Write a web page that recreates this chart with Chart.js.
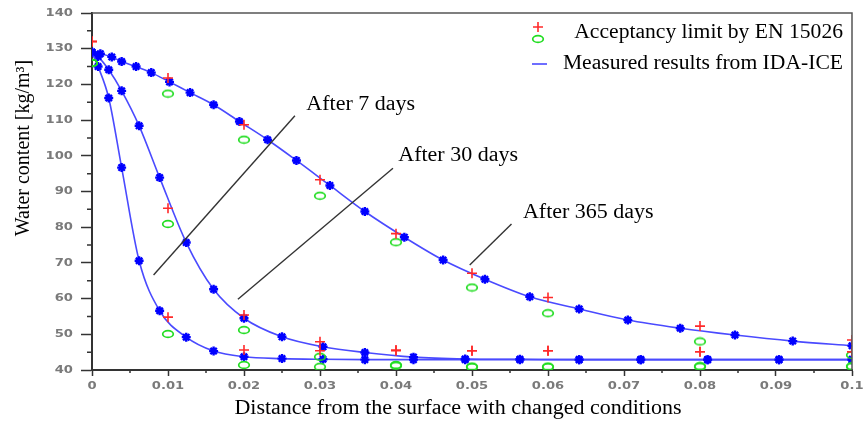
<!DOCTYPE html>
<html>
<head>
<meta charset="utf-8">
<script src="https://cdn.jsdelivr.net/npm/chart.js@4.4.1/dist/chart.umd.min.js"></script>
<style>
  html, body { margin: 0; padding: 0; background: #fff; }
  #wrap { width: 864px; height: 425px; }
</style>
</head>
<body>
<div id="wrap"><canvas id="moistChart" width="864" height="425"></canvas></div>
<script>
// simulation grid (7 and 30 days) and results
const gridX = [0, 0.0008, 0.0022, 0.0039, 0.0062, 0.0089, 0.0124, 0.016, 0.02, 0.025, 0.0304, 0.0359, 0.0423, 0.0491, 0.0563, 0.0641, 0.0722, 0.081, 0.0904, 0.1];
const days7 = [129, 125, 116.2, 96.7, 70.6, 56.6, 49.2, 45.3, 43.7, 43.2, 43.0, 42.9, 42.9, 42.9, 42.9, 42.9, 42.9, 42.9, 42.9, 42.9];
const days30 = [129, 127.8, 124.1, 118.2, 108.4, 93.9, 75.7, 62.6, 54.5, 49.3, 46.5, 44.9, 43.6, 43.1, 43.0, 42.9, 42.9, 42.9, 42.9, 42.9];

// 365 days has its own grid
const grid365 = [0, 0.0011, 0.0026, 0.0039, 0.0058, 0.0078, 0.0102, 0.0129, 0.016, 0.0194, 0.0231, 0.0269, 0.0313, 0.0359, 0.0411, 0.0462, 0.0517, 0.0576, 0.0641, 0.0705, 0.0774, 0.0846, 0.0922, 0.1];
const days365 = [129, 128.6, 127.7, 126.4, 125, 123.3, 120.7, 117.7, 114.3, 109.6, 104.5, 98.7, 91.7, 84.4, 77.2, 70.8, 65.4, 60.5, 57.1, 54.0, 51.7, 49.8, 48.1, 46.8];

// acceptancy limits EN 15026 (upper = red +, lower = green o)
const limitX = [0, 0.01, 0.02, 0.03, 0.04, 0.05, 0.06, 0.08, 0.1];
const upper7 = [132, 54.8, 45.6, 45.4, 45.4, 45.4, 45.4, 45.1, 45.1];
const lower7 = [126, 50.1, 41.4, 40.9, 41.2, 40.9, 40.9, 41.0, 41.0];
const upper30 = [132, 85.3, 55.4, 47.9, 45.6, 45.4, 45.4, 45.1, 45.1];
const lower30 = [126, 80.9, 51.2, 43.7, 41.4, 40.9, 40.9, 41.0, 41.0];
const upper365 = [132, 121.8, 108.7, 93.3, 78.2, 67.1, 60.3, 52.3, 48.4];
const lower365 = [126, 117.4, 104.5, 88.8, 75.8, 63.1, 55.9, 48.0, 44.2];

// axis ticks
const xTickValues = [0, 0.01, 0.02, 0.03, 0.04, 0.05, 0.06, 0.07, 0.08, 0.09, 0.1];
const xTickLabels = ['0', '0.01', '0.02', '0.03', '0.04', '0.05', '0.06', '0.07', '0.08', '0.09', '0.1'];
const yTickValues = [40, 50, 60, 70, 80, 90, 100, 110, 120, 130, 140];
const yTickLabels = ['40', '50', '60', '70', '80', '90', '100', '110', '120', '130', '140'];

const legendLabels = ['Acceptancy limit by EN 15026', 'Measured results from IDA-ICE'];
const curveNotes = ['After 7 days', 'After 30 days', 'After 365 days'];

const serif = '"Liberation Serif", "DejaVu Serif", serif';
const blueLine = '#4a4aff';
const blueMark = '#0000ff';
const red = '#ff2a2a';
const green = '#22dd22';

// green open ellipse marker
function ellipseMarker() {
    const c = document.createElement('canvas');
    c.width = 14; c.height = 10;
    const g = c.getContext('2d');
    g.strokeStyle = green;
    g.lineWidth = 1.7;
    g.beginPath();
    g.ellipse(7, 5, 5.3, 3.4, 0, 0, Math.PI * 2);
    g.stroke();
    return c;
}
const greenO = ellipseMarker();

function pts(xs, ys) {
    return xs.map((x, i) => ({ x: x, y: ys[i] }));
}

function curve(xs, ys) {
    return {
        data: pts(xs, ys),
        showLine: true,
        borderColor: blueLine,
        borderWidth: 1.6,
        cubicInterpolationMode: 'monotone',
        pointStyle: 'star',
        pointRadius: 4.5,
        pointBorderWidth: 2.4,
        pointBorderColor: blueMark,
        pointBackgroundColor: blueMark,
        clip: 0,
        order: 2
    };
}

function upper(ys) {
    return {
        data: pts(limitX, ys),
        showLine: false,
        pointStyle: 'cross',
        pointRadius: 5,
        pointBorderWidth: 1.6,
        pointBorderColor: red,
        clip: 0,
        order: 1
    };
}

function lower(ys) {
    return {
        data: pts(limitX, ys),
        showLine: false,
        pointStyle: greenO,
        clip: 0,
        order: 1
    };
}

// annotation lines + labels, in data units
const notes = [
    { text: curveNotes[0], x1: 0.0081, y1: 66.6, x2: 0.0267, y2: 111.2, tx: 0.0282, ty: 114.3 },
    { text: curveNotes[1], x1: 0.0192, y1: 59.8, x2: 0.0396, y2: 96.5, tx: 0.0403, ty: 100.0 },
    { text: curveNotes[2], x1: 0.0497, y1: 69.4, x2: 0.0552, y2: 80.9, tx: 0.0567, ty: 84.0 }
];

// the source picture is stretched sideways a bit
function wideText(ctx, text, x, y, sx, align) {
    ctx.save();
    ctx.translate(x, y);
    ctx.scale(sx, 1);
    ctx.textAlign = align;
    ctx.fillText(text, 0, 0);
    ctx.restore();
}

const decor = {
    id: 'decor',
    afterDraw(chart) {
        const ctx = chart.ctx;
        const a = chart.chartArea;
        const xs = chart.scales.x, ys = chart.scales.y;
        ctx.save();

        // frame top/right
        ctx.strokeStyle = '#555';
        ctx.lineWidth = 1.5;
        ctx.beginPath();
        ctx.moveTo(a.left, a.top);
        ctx.lineTo(a.right, a.top);
        ctx.lineTo(a.right, a.bottom);
        ctx.stroke();

        // minor ticks
        ctx.strokeStyle = '#333';
        ctx.lineWidth = 1.5;
        ctx.beginPath();
        for (let i = 0; i < xTickValues.length - 1; i++) {
            const px = xs.getPixelForValue((xTickValues[i] + xTickValues[i + 1]) / 2);
            ctx.moveTo(px, a.bottom);
            ctx.lineTo(px, a.bottom + 3);
        }
        for (let i = 0; i < yTickValues.length - 1; i++) {
            const py = ys.getPixelForValue((yTickValues[i] + yTickValues[i + 1]) / 2);
            ctx.moveTo(a.left, py);
            ctx.lineTo(a.left - 5, py);
        }
        ctx.stroke();

        // tick labels
        ctx.fillStyle = '#7a7a7a';
        ctx.font = 'bold 10.5px "DejaVu Sans", sans-serif';
        ctx.textBaseline = 'middle';
        xTickValues.forEach((v, i) => {
            wideText(ctx, xTickLabels[i], xs.getPixelForValue(v), a.bottom + 16, 1.25, 'center');
        });
        yTickValues.forEach((v, i) => {
            wideText(ctx, yTickLabels[i], a.left - 19, ys.getPixelForValue(v), 1.25, 'right');
        });

        // notes
        ctx.strokeStyle = '#333';
        ctx.lineWidth = 1.4;
        ctx.fillStyle = '#000';
        ctx.font = '20px ' + serif;
        notes.forEach(n => {
            ctx.beginPath();
            ctx.moveTo(xs.getPixelForValue(n.x1), ys.getPixelForValue(n.y1));
            ctx.lineTo(xs.getPixelForValue(n.x2), ys.getPixelForValue(n.y2));
            ctx.stroke();
            wideText(ctx, n.text, xs.getPixelForValue(n.tx), ys.getPixelForValue(n.ty), 1.1, 'left');
        });

        // legend
        wideText(ctx, legendLabels[0], 843, 33, 1.08, 'right');
        wideText(ctx, legendLabels[1], 843, 64, 1.08, 'right');
        ctx.strokeStyle = red;
        ctx.lineWidth = 1.6;
        ctx.beginPath();
        ctx.moveTo(533, 27); ctx.lineTo(543, 27);
        ctx.moveTo(538, 22); ctx.lineTo(538, 32);
        ctx.stroke();
        ctx.drawImage(greenO, 531, 34);
        ctx.strokeStyle = blueLine;
        ctx.beginPath();
        ctx.moveTo(532, 64); ctx.lineTo(547, 64);
        ctx.stroke();

        // axis titles
        wideText(ctx, 'Distance from the surface with changed conditions', 458, 409, 1.1, 'center');
        ctx.translate(24, 148);
        ctx.rotate(-Math.PI / 2);
        ctx.textAlign = 'center';
        ctx.fillText('Water content [kg/m\u00b3]', 0, 0);
        ctx.restore();
    }
};

new Chart(document.getElementById('moistChart').getContext('2d'), {
    type: 'scatter',
    data: {
        datasets: [
            curve(gridX, days7),
            curve(gridX, days30),
            curve(grid365, days365),
            upper(upper7), upper(upper30), upper(upper365),
            lower(lower7), lower(lower30), lower(lower365)
        ]
    },
    options: {
        responsive: false,
        animation: false,
        layout: { padding: { top: 13, right: 12, left: 0, bottom: 0 } },
        plugins: { legend: { display: false }, tooltip: { enabled: false } },
        scales: {
            x: {
                type: 'linear',
                min: 0,
                max: 0.1,
                afterBuildTicks: s => { s.ticks = xTickValues.map(v => ({ value: v })); },
                afterFit: s => { s.height = 55; },
                ticks: { display: false },
                grid: { drawOnChartArea: false, tickLength: 6, color: '#333', tickWidth: 1.5 },
                border: { display: true, color: '#333', width: 2 }
            },
            y: {
                min: 40,
                max: 140,
                afterBuildTicks: s => { s.ticks = yTickValues.map(v => ({ value: v })); },
                afterFit: s => { s.width = 92; },
                ticks: { display: false },
                grid: { drawOnChartArea: false, tickLength: 11, color: '#333', tickWidth: 1.5 },
                border: { display: true, color: '#333', width: 2 }
            }
        }
    },
    plugins: [decor]
});
</script>
</body>
</html>
